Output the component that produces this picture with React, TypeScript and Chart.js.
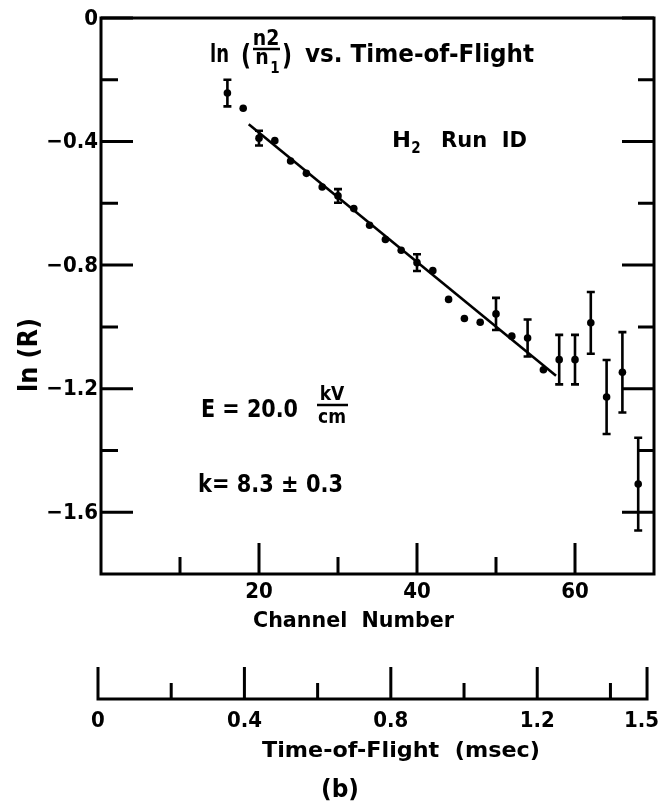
import React, { useEffect, useRef } from "react";
import { Chart, registerables } from "chart.js";
Chart.register(...registerables);

// ---- data ----
const channels = [16, 18, 20, 22, 24, 26, 28, 30, 32, 34, 36, 38, 40, 42, 44, 46, 48, 50, 52, 54, 56, 58, 60, 62, 64, 66, 68];
const lnR = [-0.243, -0.292, -0.389, -0.397, -0.463, -0.503, -0.547, -0.576, -0.617, -0.671, -0.717, -0.752, -0.792, -0.818, -0.911, -0.973, -0.985, -0.958, -1.03, -1.036, -1.139, -1.106, -1.106, -0.987, -1.227, -1.147, -1.509];
const lnRErr = [0.043, 0, 0.024, 0, 0, 0, 0, 0.022, 0, 0, 0, 0, 0.027, 0, 0, 0, 0, 0.052, 0, 0.06, 0, 0.08, 0.08, 0.1, 0.12, 0.13, 0.15];
const fitChannels = [18.7, 57.6];
const fitLnR = [-0.344, -1.158];

const yMajorTicks = [0, -0.4, -0.8, -1.2, -1.6];
const yTickLabels = ["0", "\u22120.4", "\u22120.8", "\u22121.2", "\u22121.6"];
const yMinorTicks = [-0.2, -0.6, -1.0, -1.4];
const xMajorTicks = [20, 40, 60];
const xTickLabels = ["20", "40", "60"];
const xMinorTicks = [10, 30, 50];
const tofMajorTicks = [0, 0.4, 0.8, 1.2, 1.5];
const tofTickLabels = ["0", "0.4", "0.8", "1.2", "1.5"];
const tofMinorTicks = [0.2, 0.6, 1.0, 1.4];

const FONT = "'DejaVu Sans Condensed','DejaVu Sans',sans-serif";
const fnt = (px: number) => `bold ${px}px ${FONT}`;

function fitText(ctx: CanvasRenderingContext2D, text: string, left: number, base: number, width: number, px: number) {
  ctx.font = fnt(px);
  const w = ctx.measureText(text).width;
  ctx.save();
  ctx.translate(left, base);
  ctx.scale(width / w, 1);
  ctx.textAlign = "left";
  ctx.textBaseline = "alphabetic";
  ctx.fillText(text, 0, 0);
  ctx.restore();
}

function centerText(ctx: CanvasRenderingContext2D, text: string, cx: number, base: number, px: number) {
  ctx.font = fnt(px);
  ctx.textAlign = "center";
  ctx.textBaseline = "alphabetic";
  ctx.fillText(text, cx, base);
}

const decorPlugin = {
  id: "decor",
  afterDatasetsDraw(chart: any) {
    const ctx: CanvasRenderingContext2D = chart.ctx;
    const xs = chart.scales.x;
    const ys = chart.scales.y;
    const ts = chart.scales.x2;
    const a = chart.chartArea;
    ctx.save();
    ctx.fillStyle = "#000";
    ctx.strokeStyle = "#000";
    ctx.lineCap = "butt";

    // error bars
    ctx.lineWidth = 2.6;
    channels.forEach((c, i) => {
      const e = lnRErr[i];
      if (!e) return;
      const px = xs.getPixelForValue(c);
      const t = ys.getPixelForValue(lnR[i] + e);
      const b = ys.getPixelForValue(lnR[i] - e);
      ctx.beginPath();
      ctx.moveTo(px, t);
      ctx.lineTo(px, b);
      ctx.moveTo(px - 4, t);
      ctx.lineTo(px + 4, t);
      ctx.moveTo(px - 4, b);
      ctx.lineTo(px + 4, b);
      ctx.stroke();
    });

    // frame
    ctx.lineWidth = 3;
    ctx.strokeRect(a.left, a.top, a.right - a.left, a.bottom - a.top);

    // y ticks (both sides, inward)
    ctx.beginPath();
    yMajorTicks.forEach((v) => {
      const py = ys.getPixelForValue(v);
      ctx.moveTo(a.left, py);
      ctx.lineTo(a.left + 32, py);
      ctx.moveTo(a.right, py);
      ctx.lineTo(a.right - 32, py);
    });
    yMinorTicks.forEach((v) => {
      const py = ys.getPixelForValue(v);
      ctx.moveTo(a.left, py);
      ctx.lineTo(a.left + 17, py);
      ctx.moveTo(a.right, py);
      ctx.lineTo(a.right - 16, py);
    });
    // x ticks (bottom, inward)
    xMajorTicks.forEach((v) => {
      const px = xs.getPixelForValue(v);
      ctx.moveTo(px, a.bottom);
      ctx.lineTo(px, a.bottom - 31);
    });
    xMinorTicks.forEach((v) => {
      const px = xs.getPixelForValue(v);
      ctx.moveTo(px, a.bottom);
      ctx.lineTo(px, a.bottom - 17);
    });
    ctx.stroke();

    // y tick labels
    ctx.font = fnt(22);
    ctx.textAlign = "right";
    ctx.textBaseline = "middle";
    yMajorTicks.forEach((v, i) => {
      ctx.fillText(yTickLabels[i], a.left - 3, ys.getPixelForValue(v) + 1);
    });
    // x tick labels
    xMajorTicks.forEach((v, i) => centerText(ctx, xTickLabels[i], xs.getPixelForValue(v), 598, 22));
    fitText(ctx, "Channel  Number", 253, 627, 201, 22);

    // time-of-flight axis
    const axisY = 699;
    ctx.lineWidth = 3;
    ctx.beginPath();
    ctx.moveTo(ts.getPixelForValue(0) - 1.5, axisY);
    ctx.lineTo(ts.getPixelForValue(1.5) + 1.5, axisY);
    tofMajorTicks.forEach((v) => {
      const px = ts.getPixelForValue(v);
      ctx.moveTo(px, axisY);
      ctx.lineTo(px, axisY - 32);
    });
    tofMinorTicks.forEach((v) => {
      const px = ts.getPixelForValue(v);
      ctx.moveTo(px, axisY);
      ctx.lineTo(px, axisY - 16);
    });
    ctx.stroke();
    tofMajorTicks.forEach((v, i) => {
      const px = ts.getPixelForValue(v);
      if (i === tofMajorTicks.length - 1) {
        ctx.font = fnt(22);
        ctx.textAlign = "right";
        ctx.textBaseline = "alphabetic";
        ctx.fillText(tofTickLabels[i], Math.min(px + 18, chart.width - 1), 727);
      } else {
        centerText(ctx, tofTickLabels[i], px, 727, 22);
      }
    });
    fitText(ctx, "Time-of-Flight  (msec)", 262, 757, 278, 22);
    fitText(ctx, "(b)", 321, 797, 38, 24);

    // y axis title
    ctx.save();
    ctx.translate(37, 392);
    ctx.rotate(-Math.PI / 2);
    fitText(ctx, "ln (R)", 0, 0, 74, 26);
    ctx.restore();

    // title: ln (n2/n1) vs. Time-of-Flight
    fitText(ctx, "ln", 210, 62, 19, 24);
    fitText(ctx, "(", 241, 65, 10, 29);
    fitText(ctx, ")", 282, 65, 10, 29);
    centerText(ctx, "n2", 266, 45, 21);
    ctx.lineWidth = 2.5;
    ctx.beginPath();
    ctx.moveTo(253, 49);
    ctx.lineTo(280, 49);
    ctx.stroke();
    centerText(ctx, "n", 262, 64, 21);
    centerText(ctx, "1", 275, 73, 15);
    fitText(ctx, "vs. Time-of-Flight", 305, 62, 229, 24);

    // H2 Run ID
    fitText(ctx, "H", 392, 147, 19, 21);
    centerText(ctx, "2", 416, 153, 15);
    fitText(ctx, "Run  ID", 441, 147, 86, 21);

    // E = 20.0 kV/cm
    fitText(ctx, "E = 20.0", 201, 417, 97, 24);
    centerText(ctx, "kV", 332, 400, 19);
    ctx.lineWidth = 2.5;
    ctx.beginPath();
    ctx.moveTo(317, 405);
    ctx.lineTo(348, 405);
    ctx.stroke();
    centerText(ctx, "cm", 332, 423, 19);

    // k = 8.3 ± 0.3
    fitText(ctx, "k= 8.3 \u00b1 0.3", 198, 492, 145, 24);

    ctx.restore();
  },
};

export default function App() {
  const ref = useRef<HTMLCanvasElement | null>(null);
  useEffect(() => {
    if (!ref.current) return;
    const chart = new Chart(ref.current, {
      type: "scatter",
      data: {
        datasets: [
          {
            type: "line",
            label: "fit",
            data: fitChannels.map((c, i) => ({ x: c, y: fitLnR[i] })),
            borderColor: "#000",
            borderWidth: 2.6,
            pointRadius: 0,
            fill: false,
          } as any,
          {
            label: "ln R",
            data: channels.map((c, i) => ({ x: c, y: lnR[i] })),
            backgroundColor: "#000",
            borderColor: "#000",
            borderWidth: 0,
            pointRadius: 3.8,
            pointHoverRadius: 3.8,
          },
        ],
      },
      options: {
        animation: false,
        responsive: false,
        devicePixelRatio: 1,
        events: [],
        layout: { padding: { left: 101, right: 6, top: 18, bottom: 232 } },
        plugins: { legend: { display: false }, tooltip: { enabled: false }, title: { display: false } },
        scales: {
          x: { type: "linear", min: 0, max: 70, display: false },
          x2: { type: "linear", axis: "x", position: "bottom", min: 0.0082, max: 1.519, display: false },
          y: { type: "linear", min: -1.8, max: 0, display: false },
        },
      },
      plugins: [decorPlugin],
    } as any);
    return () => chart.destroy();
  }, []);
  return (
    <div style={{ position: "absolute", left: 0, top: 0, width: 660, height: 806, background: "#fff" }}>
      <canvas ref={ref} width={660} height={806} style={{ display: "block", width: 660, height: 806 }} />
    </div>
  );
}
